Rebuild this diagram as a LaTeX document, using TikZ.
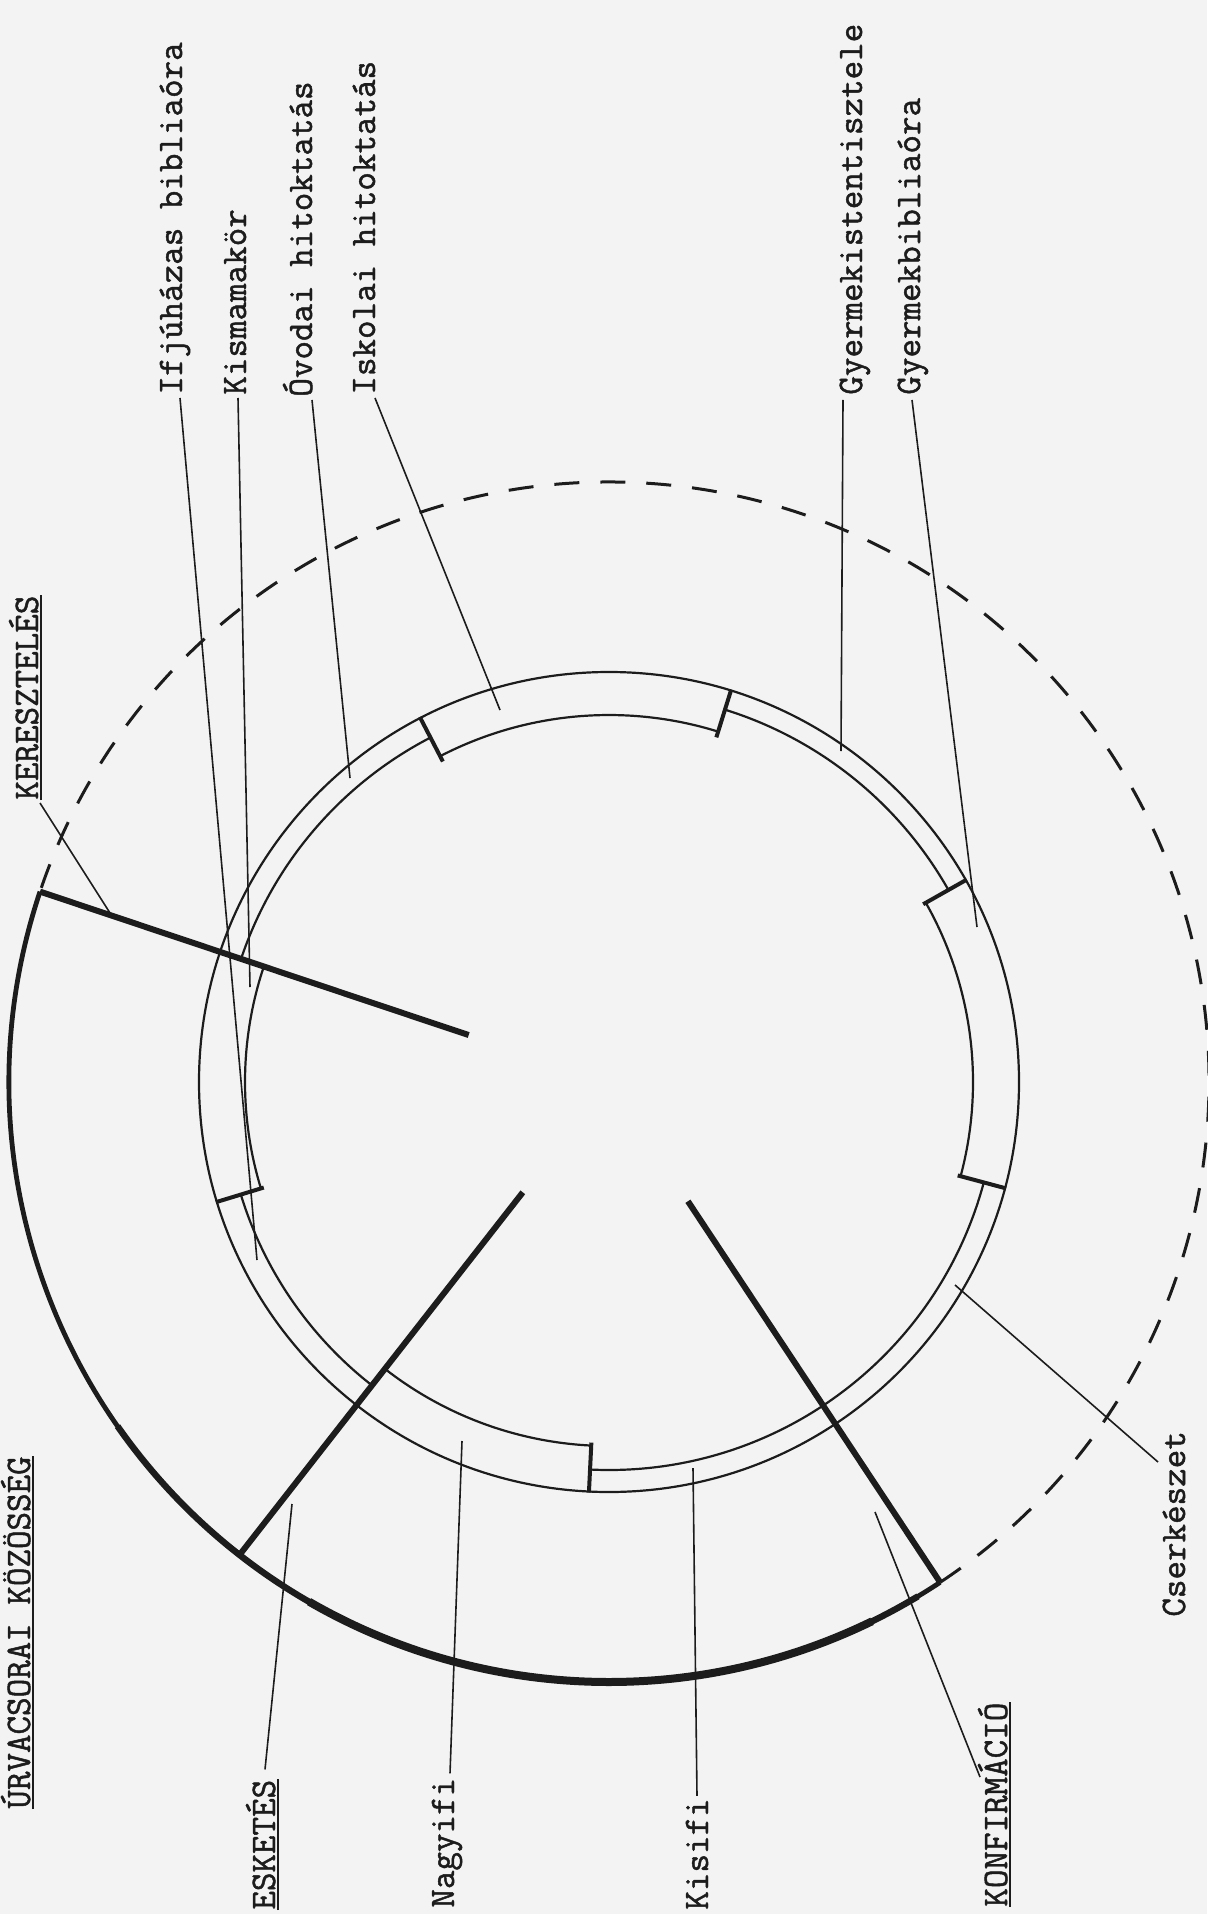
\documentclass[tikz,border=0pt]{standalone}
\usepackage{fontspec}
\newfontfamily\typew[FakeBold=1.3]{Latin Modern Mono}
\usetikzlibrary{calc}
\definecolor{paper}{HTML}{F3F3F3}
\definecolor{ink}{HTML}{1C1C1C}
\begin{document}
\begin{tikzpicture}[x=0.5pt,y=0.5pt,
  ring/.style={draw=ink, line width=1.1pt},
  tickmark/.style={draw=ink, line width=2pt},
  life/.style={draw=ink, line width=3pt},
  lifearc/.style={draw=ink, line width=2.4pt},
  dashcircle/.style={draw=ink, line width=1.5pt, dash pattern=on 12.5pt off 10.5pt},
  leader/.style={draw=ink, line width=0.8pt},
  uline/.style={draw=ink, line width=1pt},
  lbl/.style={font=\typew\fontsize{18pt}{20pt}\selectfont, text=ink, rotate=90, anchor=base west, inner sep=0pt},
]
\fill[paper] (0,0) rectangle (1207,-1914);
\useasboundingbox (0,0) rectangle (1207,-1914);
\coordinate (C) at (609,-1082);

% big circle: dashed part and solid (communion) part
\draw[dashcircle] ($(C)+(-56.5:600)$) arc[start angle=-56.5, end angle=161.5, radius=600];
\draw[lifearc] ($(C)+(161.5:600)$) arc[start angle=161.5, end angle=303.5, radius=600];
\draw[draw=ink, line width=3.2pt] ($(C)+(215:600)$) arc[start angle=215, end angle=301, radius=600];
\draw[draw=ink, line width=4pt] ($(C)+(240:600)$) arc[start angle=240, end angle=296, radius=600];

% ring: outer circle
\draw[ring] (C) circle[radius=410];
% inner boundaries of the segments
\draw[ring] ($(C)+(161.5:364)$) arc[start angle=161.5, end angle=197, radius=364];   % Kismamakor
\draw[ring] ($(C)+(197:385)$) arc[start angle=197, end angle=232, radius=385];       % Ifjuhazas
\draw[ring] ($(C)+(232:364)$) arc[start angle=232, end angle=267.2, radius=364];     % Nagyifi
\draw[ring] ($(C)+(267.2:388)$) arc[start angle=267.2, end angle=345, radius=388];   % Kisifi + Cserkeszet
\draw[ring] ($(C)+(345:364)$) arc[start angle=345, end angle=389.5, radius=364];     % Gyermekbibliaora
\draw[ring] ($(C)+(29.5:390)$) arc[start angle=29.5, end angle=72.7, radius=390];    % Gyermekistentisztelet
\draw[ring] ($(C)+(72.7:367)$) arc[start angle=72.7, end angle=117.4, radius=367];   % Iskolai
\draw[ring] ($(C)+(117.4:388)$) arc[start angle=117.4, end angle=161.5, radius=388]; % Ovodai
\draw[ring] ($(C)+(161.5:364)$) -- ($(C)+(161.5:388)$);
\draw[ring] ($(C)+(232:364)$) -- ($(C)+(232:385)$);
% ticks between segments
\foreach \a in {197,267.2,345,29.5,72.7,117.4}
  \draw[tickmark] ($(C)+(\a:361)$) -- ($(C)+(\a:411)$);

% thick radial lines
\coordinate (ker-in) at ($(C)+(161.5:148)$);
\coordinate (ker-out) at ($(C)+(161.5:600)$);
\coordinate (esk-in) at ($(C)+(232:140)$);
\coordinate (esk-out) at ($(C)+(232:600)$);
\coordinate (konf-in) at ($(C)+(303.5:143)$);
\coordinate (konf-out) at ($(C)+(303.5:600)$);
\draw[life] (ker-in) -- (ker-out);
\draw[life] (esk-in) -- (esk-out);
\draw[life] (konf-in) -- (konf-out);

% labels
\node[lbl] (ifju) at (182,-395) {Ifjúházas bibliaóra};
\node[lbl] (kisma) at (246,-395) {Kismamakör};
\node[lbl] (ovo) at (312,-397) {Óvodai hitoktatás};
\node[lbl] (isk) at (375,-395) {Iskolai hitoktatás};
\node[lbl] (gyi) at (862,-395) {Gyermekistentisztele};
\node[lbl] (gyb) at (920,-395) {Gyermekbibliaóra};
\node[lbl] (cserk) at (1185,-1617) {Cserkészet};
\node[lbl] (konf) at (1007,-1907) {KONFIRMÁCIÓ};
\node[lbl] (kisifi) at (708,-1910) {Kisifi};
\node[lbl] (nagy) at (454,-1908) {Nagyifi};
\node[lbl] (esk) at (275,-1910) {ESKETÉS};
\node[lbl] (urv) at (30,-1809) {ÚRVACSORAI KÖZÖSSÉG};
\node[lbl] (ker) at (38,-800) {KERESZTELÉS};

% underlines
\foreach \n in {konf,esk,urv,ker}
  \draw[uline] ([xshift=1.5pt]\n.base west) -- ([xshift=1.5pt]\n.base east);

% leader end points
\coordinate (e-ifju) at (257,-1260);
\coordinate (e-kisma) at (250,-987);
\coordinate (e-ovo) at (350,-778);
\coordinate (e-isk) at (500,-710);
\coordinate (e-gyi) at (841,-751);
\coordinate (e-gyb) at (977,-927);
\coordinate (e-cserk) at (955,-1285);
\coordinate (e-konf) at (875,-1512);
\coordinate (e-kisifi) at (693,-1468);
\coordinate (e-nagy) at (462,-1441);
\coordinate (e-esk) at (292,-1504);
\coordinate (e-ker) at (110,-913);

% leaders
\draw[leader] ($(ifju.base west)+(-2,-3)$) -- (e-ifju);
\draw[leader] ($(kisma.base west)+(-8,-3)$) -- (e-kisma);
\draw[leader] ($(ovo.base west)+(0,-3)$) -- (e-ovo);
\draw[leader] ($(isk.base west)+(0,-3)$) -- (e-isk);
\draw[leader] ($(gyi.base west)+(-19,-5)$) -- (e-gyi);
\draw[leader] ($(gyb.base west)+(-8,-5)$) -- (e-gyb);
\draw[leader] ($(cserk.base west)+(-27,155)$) -- (e-cserk);
\draw[leader] ($(konf.base west)+(-27,130)$) -- (e-konf);
\draw[leader] ($(kisifi.base east)+(-11,2)$) -- (e-kisifi);
\draw[leader] ($(nagy.base east)+(-4,4)$) -- (e-nagy);
\draw[leader] ($(esk.base east)+(-10,10)$) -- (e-esk);
\draw[leader] ($(ker.base west)+(2,-3)$) -- (e-ker);
\end{tikzpicture}
\end{document}
